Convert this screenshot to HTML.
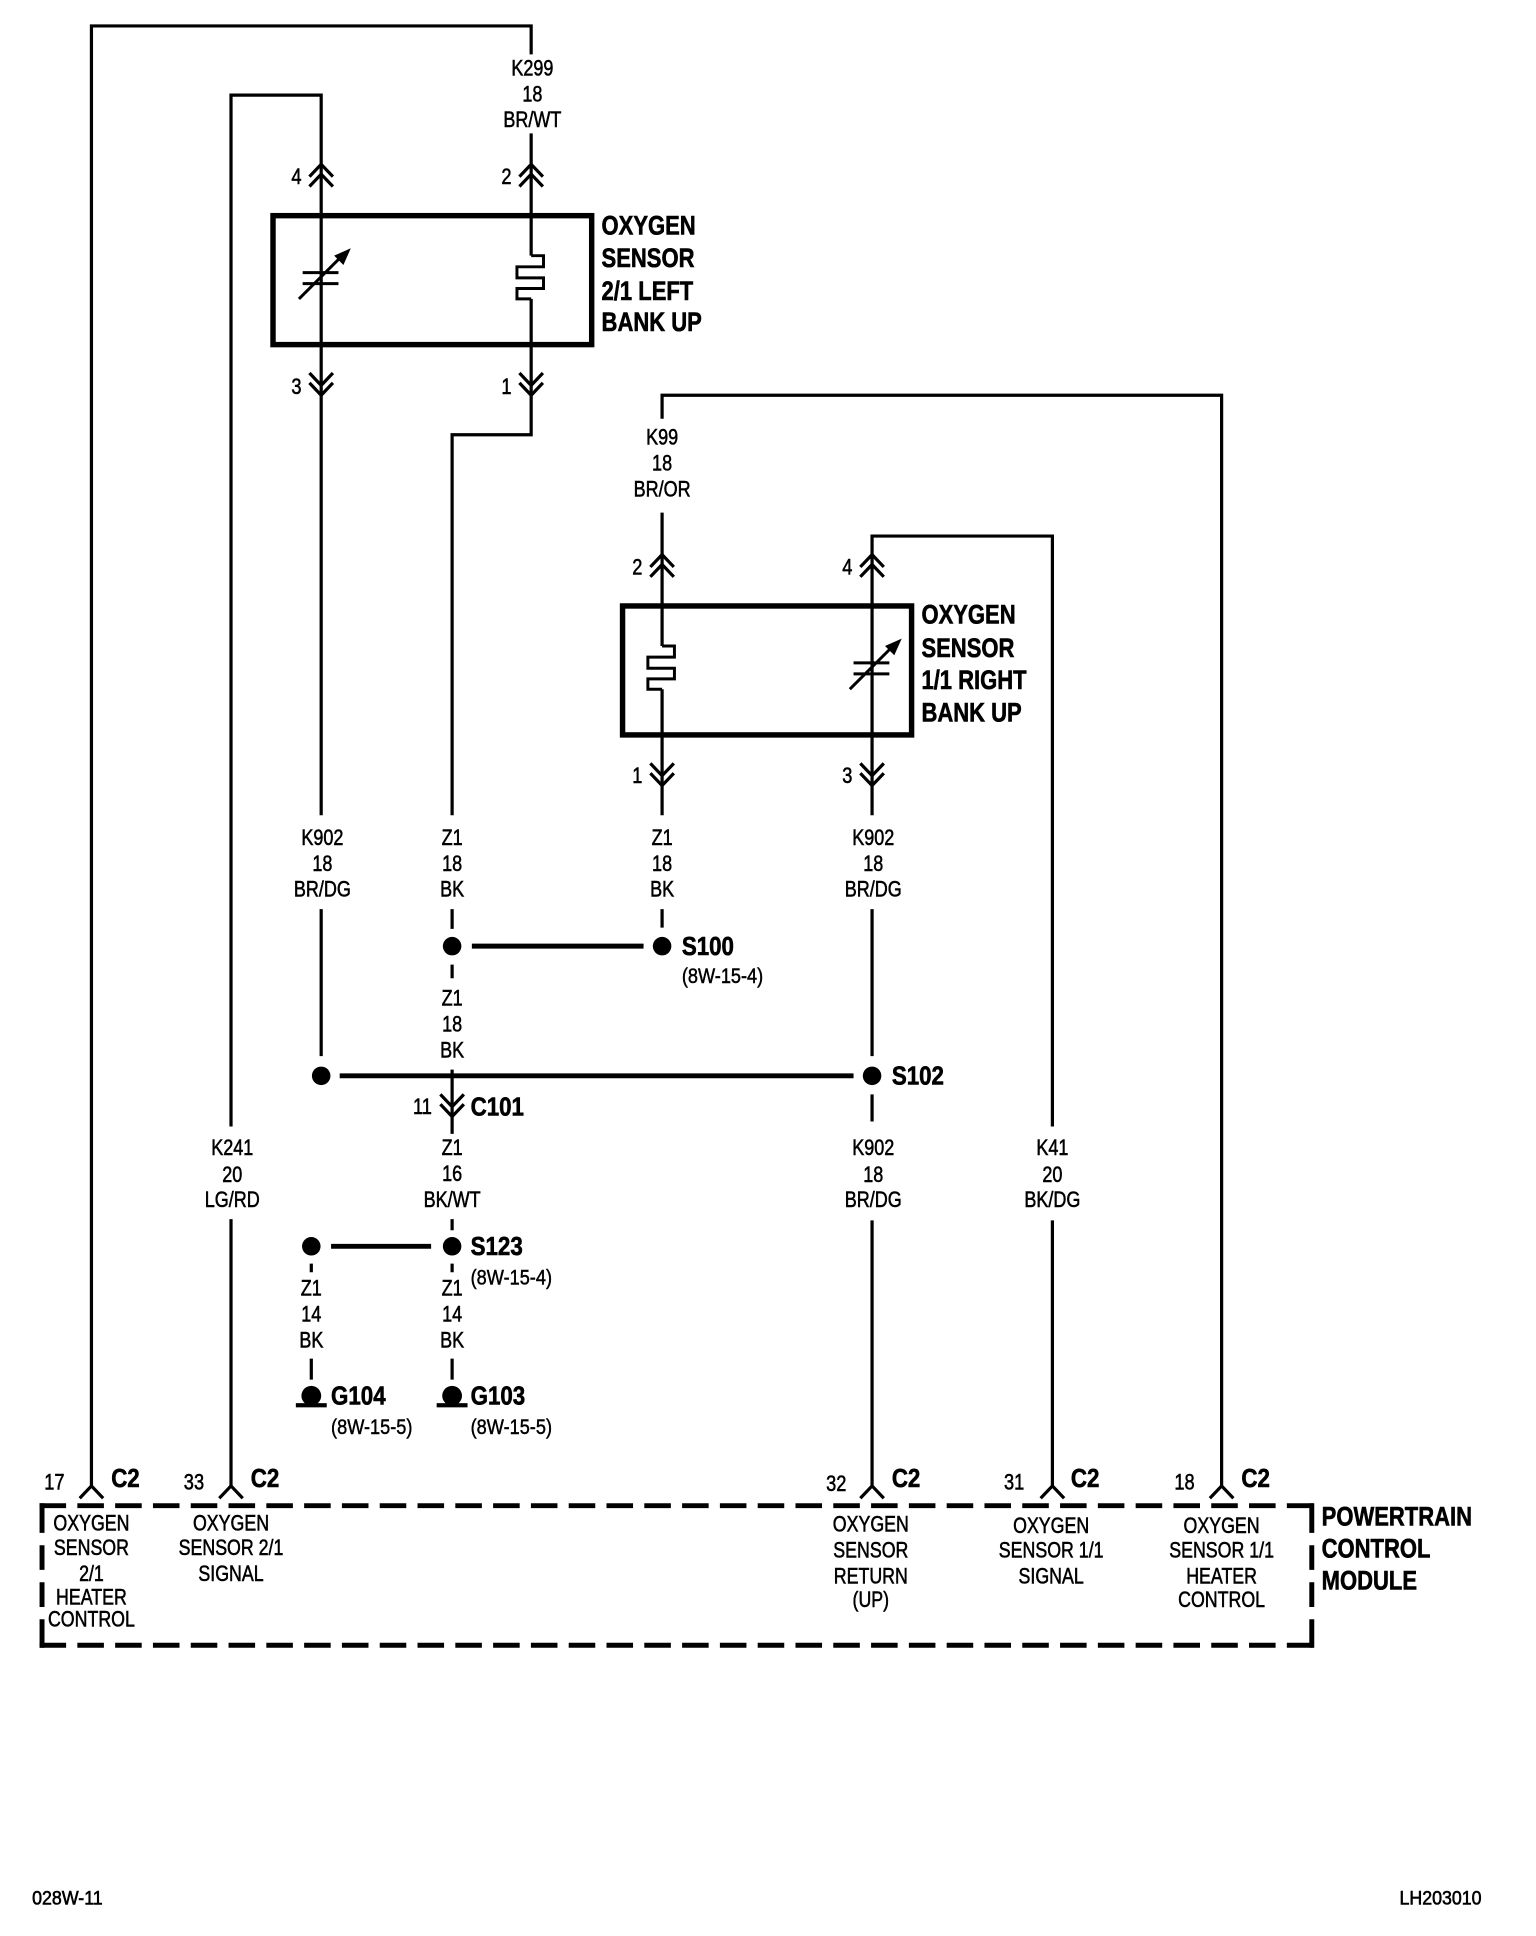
<!DOCTYPE html>
<html><head><meta charset="utf-8">
<style>
html,body{margin:0;padding:0;background:#fff}
svg{display:block}
text{fill:#000;font-family:"Liberation Sans",sans-serif;transform-box:fill-box}
.l{font-size:18px;text-anchor:middle;transform-origin:center;transform:scaleX(.81);stroke:#000;stroke-width:.45}
.n{font-size:18px;text-anchor:middle;transform-origin:center;transform:scaleX(.82);stroke:#000;stroke-width:.45}
.p{font-size:18px;text-anchor:middle;transform-origin:center;transform:scaleX(.8);stroke:#000;stroke-width:.45}
.t{font-size:22px;font-weight:bold;transform-origin:left center;transform:scaleX(.81);stroke:#000;stroke-width:.5}
.s{font-size:21px;font-weight:bold;transform-origin:left center;transform:scaleX(.86);stroke:#000;stroke-width:.5}
.r{font-size:17.5px;transform-origin:left center;transform:scaleX(.84);stroke:#000;stroke-width:.4}
.f{font-size:16px;transform-origin:left center;transform:scaleX(.9);stroke:#000;stroke-width:.5}
</style></head><body>
<svg width="1536" height="1936" viewBox="0 0 1243.5 1567.4" xmlns="http://www.w3.org/2000/svg">
<defs>
<g id="up" fill="none" stroke="#000" stroke-width="2.6"><path d="M-9.5 10L0 0L9.5 10M-9.5 18L0 8L9.5 18"/></g>
<g id="dn" fill="none" stroke="#000" stroke-width="2.6"><path d="M-9.5 0L0 10L9.5 0M-9.5 8L0 18L9.5 8"/></g>
<g id="one" fill="none" stroke="#000" stroke-width="2.6"><path d="M-9.5 10L0 0L9.5 10"/></g>
<g id="cap"><path d="M245 220.7H274M245 229.6H274M242 242L276 208" fill="none" stroke="#000" stroke-width="2.4"/><path d="M284 201L270.5 207L278 214.5Z" fill="#000"/></g>
<g id="htr"><path d="M430 207H440V216H418.5V225H440V233.6H418.5V242H430" fill="none" stroke="#000" stroke-width="2.4"/></g>
<g id="gnd"><circle cx="0" cy="-6" r="8" fill="#000"/><rect x="-12.5" y="0" width="25" height="3.4" fill="#000"/></g>
</defs>

<g fill="none" stroke="#000" stroke-width="2.6">
<path d="M74 1203V21H430V44"/>
<path d="M430 108V207M430 242V352H366V660"/>
<path d="M187 912V77H260V660"/>
<path d="M260 736V855"/>
<path d="M366 736V752M366 781V792M366 866V918M366 987V996M366 1023V1030M366 1100V1117"/>
<path d="M252 1023V1030M252 1100V1117"/>
<path d="M536 339V320H989V1203"/>
<path d="M536 415V523M536 558V660M536 736V751"/>
<path d="M706 660V434H852V912"/>
<path d="M706 736V855M706 886V908M706 988V1203"/>
<path d="M187 987V1203"/>
<path d="M852 988V1203"/>
</g>

<g fill="none" stroke="#000" stroke-width="4">
<path d="M382 766H521M275 871H691M268 1009H349"/>
</g>
<g fill="none" stroke="#000" stroke-width="4.4">
<rect x="221" y="174.6" width="258" height="104.4"/>
<rect x="504" y="490.6" width="234" height="104.4"/>
</g>
<g fill="none" stroke="#000" stroke-width="4" stroke-dasharray="21.5 9.1">
<path d="M32 1219H1064"/>
<path d="M32 1332H1064"/>
</g>
<g fill="none" stroke="#000" stroke-width="4">
<path d="M34 1217V1241M34 1251V1271M34 1281V1301M34 1311V1334"/>
<path d="M1062 1217V1241M1062 1251V1271M1062 1281V1301M1062 1311V1334"/>
</g>

<use href="#cap"/>
<use href="#htr"/>
<use href="#cap" transform="translate(446,316)"/>
<use href="#htr" transform="translate(106,316)"/>

<use href="#up" x="260" y="133"/><use href="#up" x="430" y="133"/>
<use href="#dn" x="260" y="302"/><use href="#dn" x="430" y="302"/>
<use href="#up" x="536" y="449"/><use href="#up" x="706" y="449"/>
<use href="#dn" x="536" y="618"/><use href="#dn" x="706" y="618"/>
<use href="#dn" x="366" y="886"/>
<use href="#one" x="74" y="1203"/><use href="#one" x="187" y="1203"/><use href="#one" x="706" y="1203"/><use href="#one" x="852" y="1203"/><use href="#one" x="989" y="1203"/>

<g fill="#000">
<circle cx="366" cy="766" r="7.5"/><circle cx="536" cy="766" r="7.5"/>
<circle cx="260" cy="871" r="7.5"/><circle cx="706" cy="871" r="7.5"/>
<circle cx="252" cy="1009" r="7.5"/><circle cx="366" cy="1009" r="7.5"/>
</g>
<use href="#gnd" x="252" y="1136"/><use href="#gnd" x="366" y="1136"/>

<!-- wire labels -->
<text class="l" x="431" y="61">K299</text><text class="l" x="431" y="82">18</text><text class="l" x="431" y="103">BR/WT</text>
<text class="l" x="536" y="360">K99</text><text class="l" x="536" y="381">18</text><text class="l" x="536" y="402">BR/OR</text>
<text class="l" x="261" y="684">K902</text><text class="l" x="261" y="705">18</text><text class="l" x="261" y="726">BR/DG</text>
<text class="l" x="366" y="684">Z1</text><text class="l" x="366" y="705">18</text><text class="l" x="366" y="726">BK</text>
<text class="l" x="536" y="684">Z1</text><text class="l" x="536" y="705">18</text><text class="l" x="536" y="726">BK</text>
<text class="l" x="707" y="684">K902</text><text class="l" x="707" y="705">18</text><text class="l" x="707" y="726">BR/DG</text>
<text class="l" x="366" y="814">Z1</text><text class="l" x="366" y="835">18</text><text class="l" x="366" y="856">BK</text>
<text class="l" x="188" y="935">K241</text><text class="l" x="188" y="957">20</text><text class="l" x="188" y="977">LG/RD</text>
<text class="l" x="366" y="935">Z1</text><text class="l" x="366" y="956">16</text><text class="l" x="366" y="977">BK/WT</text>
<text class="l" x="707" y="935">K902</text><text class="l" x="707" y="957">18</text><text class="l" x="707" y="977">BR/DG</text>
<text class="l" x="852" y="935">K41</text><text class="l" x="852" y="957">20</text><text class="l" x="852" y="977">BK/DG</text>
<text class="l" x="252" y="1049">Z1</text><text class="l" x="252" y="1070">14</text><text class="l" x="252" y="1091">BK</text>
<text class="l" x="366" y="1049">Z1</text><text class="l" x="366" y="1070">14</text><text class="l" x="366" y="1091">BK</text>

<!-- pin numbers -->
<text class="n" x="240" y="149">4</text><text class="n" x="410" y="149">2</text>
<text class="n" x="240" y="319">3</text><text class="n" x="410" y="319">1</text>
<text class="n" x="516" y="465">2</text><text class="n" x="686" y="465">4</text>
<text class="n" x="516" y="634">1</text><text class="n" x="686" y="634">3</text>
<text class="n" x="342" y="902">11</text>
<text class="n" x="44" y="1206">17</text><text class="n" x="157" y="1206">33</text>
<text class="n" x="677" y="1207">32</text><text class="n" x="821" y="1206">31</text><text class="n" x="959" y="1206">18</text>

<!-- titles -->
<text class="t" x="487" y="190">OXYGEN</text><text class="t" x="487" y="216">SENSOR</text><text class="t" x="487" y="243">2/1 LEFT</text><text class="t" x="487" y="268">BANK UP</text>
<text class="t" x="746" y="505">OXYGEN</text><text class="t" x="746" y="532">SENSOR</text><text class="t" x="746" y="558">1/1 RIGHT</text><text class="t" x="746" y="584">BANK UP</text>
<text class="t" x="1070" y="1235">POWERTRAIN</text><text class="t" x="1070" y="1261">CONTROL</text><text class="t" x="1070" y="1287">MODULE</text>

<text class="s" x="552" y="773">S100</text><text class="r" x="552" y="796">(8W-15-4)</text>
<text class="s" x="722" y="878">S102</text>
<text class="s" x="381" y="903">C101</text>
<text class="s" x="381" y="1016">S123</text><text class="r" x="381" y="1040">(8W-15-4)</text>
<text class="s" x="268" y="1137">G104</text><text class="r" x="268" y="1161">(8W-15-5)</text>
<text class="s" x="381" y="1137">G103</text><text class="r" x="381" y="1161">(8W-15-5)</text>

<text class="s" x="90" y="1204">C2</text><text class="s" x="203" y="1204">C2</text>
<text class="s" x="722" y="1204">C2</text><text class="s" x="867" y="1204">C2</text><text class="s" x="1005" y="1204">C2</text>

<!-- PCM pins -->
<text class="p" x="74" y="1239">OXYGEN</text><text class="p" x="74" y="1259">SENSOR</text><text class="p" x="74" y="1280">2/1</text><text class="p" x="74" y="1299">HEATER</text><text class="p" x="74" y="1317">CONTROL</text>
<text class="p" x="187" y="1239">OXYGEN</text><text class="p" x="187" y="1259">SENSOR 2/1</text><text class="p" x="187" y="1280">SIGNAL</text>
<text class="p" x="705" y="1240">OXYGEN</text><text class="p" x="705" y="1261">SENSOR</text><text class="p" x="705" y="1282">RETURN</text><text class="p" x="705" y="1301">(UP)</text>
<text class="p" x="851" y="1241">OXYGEN</text><text class="p" x="851" y="1261">SENSOR 1/1</text><text class="p" x="851" y="1282">SIGNAL</text>
<text class="p" x="989" y="1241">OXYGEN</text><text class="p" x="989" y="1261">SENSOR 1/1</text><text class="p" x="989" y="1282">HEATER</text><text class="p" x="989" y="1301">CONTROL</text>

<text class="f" x="26" y="1542">028W-11</text>
<text class="f" x="1133" y="1542">LH203010</text>
</svg>
</body></html>
